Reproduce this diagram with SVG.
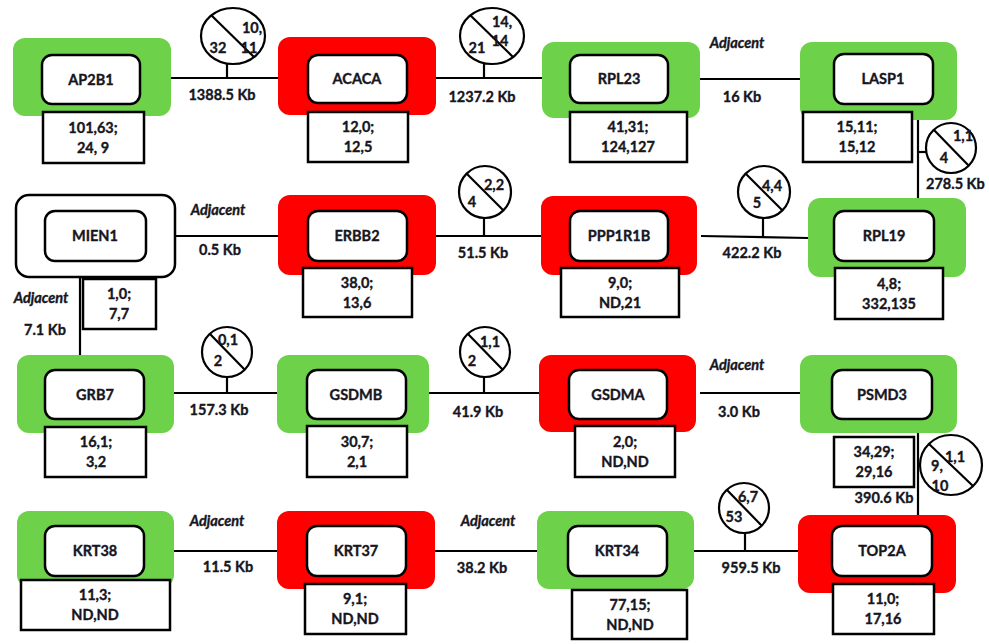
<svg xmlns="http://www.w3.org/2000/svg" width="989" height="644" viewBox="0 0 989 644">
<style>
text{font-family:Lato,"Liberation Sans",sans-serif;font-weight:bold;font-size:14.5px;fill:#161622;stroke:#161622;stroke-width:0.35;text-anchor:middle}
.it{font-style:italic}
.st{text-anchor:start}
.g{fill:#6DD24A;stroke:none}
.r{fill:#FF0000;stroke:none}
.w{fill:#fff;stroke:#000;stroke-width:2.5}
.d{fill:#fff;stroke:#000;stroke-width:2.5}
.ln{stroke:#000;stroke-width:2.2;fill:none}
.c{fill:#fff;stroke:#000;stroke-width:2.2}
</style>
<rect width="989" height="644" fill="#fff"/>

<g id="connectors">
  <!-- row 1 -->
  <line class="ln" x1="171" y1="78" x2="278" y2="78"/>
  <line class="ln" x1="227" y1="78" x2="227" y2="63"/>
  <ellipse class="c" cx="233" cy="36" rx="32" ry="28"/>
  <line class="ln" x1="211" y1="15" x2="254" y2="57"/>
  <text x="252" y="33">10,</text><text x="249" y="53">11</text><text x="218" y="53">32</text>
  <text x="222" y="100">1388.5 Kb</text>

  <line class="ln" x1="436" y1="78" x2="542" y2="78"/>
  <line class="ln" x1="484" y1="78" x2="484" y2="63"/>
  <ellipse class="c" cx="492" cy="36" rx="32" ry="28"/>
  <line class="ln" x1="470" y1="15" x2="513" y2="57"/>
  <text x="502" y="27">14,</text><text x="500" y="46">14</text><text x="477" y="53">21</text>
  <text x="482" y="102">1237.2 Kb</text>

  <line class="ln" x1="700" y1="79" x2="804" y2="79"/>
  <text class="it" x="737" y="48">Adjacent</text>
  <text x="742" y="102">16 Kb</text>

  <line class="ln" x1="918" y1="120" x2="918" y2="205" stroke-width="2.6"/>
  <line class="ln" x1="918" y1="152" x2="926" y2="152"/>
  <circle class="c" cx="951" cy="148" r="25"/>
  <line class="ln" x1="934" y1="130" x2="969" y2="166"/>
  <text x="963" y="141">1,1</text><text x="944" y="163">4</text>
  <text class="st" x="926" y="189">278.5 Kb</text>

  <!-- row 2 -->
  <line class="ln" x1="175" y1="236" x2="278" y2="236"/>
  <text class="it" x="218" y="215">Adjacent</text>
  <text x="220" y="255">0.5 Kb</text>

  <line class="ln" x1="436" y1="236" x2="541" y2="236"/>
  <line class="ln" x1="484" y1="236" x2="484" y2="218"/>
  <circle class="c" cx="485" cy="192" r="26"/>
  <line class="ln" x1="467" y1="174" x2="503" y2="210"/>
  <text x="494" y="190">2,2</text><text x="472" y="207">4</text>
  <text x="483" y="258">51.5 Kb</text>

  <line class="ln" x1="701" y1="236" x2="808" y2="238"/>
  <line class="ln" x1="763" y1="237" x2="763" y2="218"/>
  <circle class="c" cx="764" cy="192" r="26"/>
  <line class="ln" x1="746" y1="174" x2="782" y2="210"/>
  <text x="772" y="191">4,4</text><text x="757" y="208">5</text>
  <text x="752" y="258">422.2 Kb</text>

  <line class="ln" x1="80" y1="277" x2="80" y2="355" stroke-width="3"/>
  <text class="it" x="41" y="303">Adjacent</text>
  <text x="45" y="335">7.1 Kb</text>

  <!-- row 3 -->
  <line class="ln" x1="174" y1="393" x2="277" y2="393"/>
  <line class="ln" x1="227" y1="393" x2="227" y2="377"/>
  <circle class="c" cx="227" cy="352" r="25"/>
  <line class="ln" x1="210" y1="334" x2="245" y2="370"/>
  <text x="228" y="345">0,1</text><text x="218" y="366">2</text>
  <text x="219" y="415">157.3 Kb</text>

  <line class="ln" x1="429" y1="393" x2="540" y2="393"/>
  <line class="ln" x1="484" y1="393" x2="484" y2="377"/>
  <circle class="c" cx="485" cy="352" r="25"/>
  <line class="ln" x1="468" y1="334" x2="503" y2="370"/>
  <text x="490" y="347">1,1</text><text x="472" y="366">2</text>
  <text x="478" y="417">41.9 Kb</text>

  <line class="ln" x1="700" y1="393" x2="804" y2="393"/>
  <text class="it" x="737" y="370">Adjacent</text>
  <text x="739" y="417">3.0 Kb</text>

  <line class="ln" x1="918" y1="433" x2="918" y2="515" stroke-width="2.6"/>
  <line class="ln" x1="918" y1="465" x2="921" y2="465"/>
  <ellipse class="c" cx="951" cy="465" rx="31" ry="30"/>
  <line class="ln" x1="929" y1="444" x2="973" y2="486"/>
  <text x="955" y="462">1,1</text><text x="937" y="471">9,</text><text x="940" y="491">10</text>
  <text x="884" y="503">390.6 Kb</text>

  <!-- row 4 -->
  <line class="ln" x1="174" y1="551" x2="277" y2="551"/>
  <text class="it" x="217" y="526">Adjacent</text>
  <text x="228" y="572">11.5 Kb</text>

  <line class="ln" x1="435" y1="551" x2="537" y2="551"/>
  <text class="it" x="488" y="526">Adjacent</text>
  <text x="482" y="573">38.2 Kb</text>

  <line class="ln" x1="694" y1="551" x2="803" y2="551"/>
  <line class="ln" x1="745" y1="551" x2="745" y2="533"/>
  <circle class="c" cx="744" cy="508" r="25"/>
  <line class="ln" x1="727" y1="490" x2="762" y2="526"/>
  <text x="748" y="502">6,7</text><text x="734" y="522">53</text>
  <text x="751" y="573">959.5 Kb</text>
</g>

<g id="AP2B1">
  <rect class="g" x="13" y="38" width="158" height="78" rx="12"/>
  <rect class="w" x="42" y="55" width="98" height="49" rx="10"/>
  <text x="91" y="85">AP2B1</text>
  <rect class="d" x="43" y="112" width="101" height="51"/>
  <text x="93" y="133">101,63;</text><text x="93" y="153">24, 9</text>
</g>
<g id="ACACA">
  <rect class="r" x="278" y="37" width="158" height="78" rx="12"/>
  <rect class="w" x="308" y="55" width="99" height="48" rx="10"/>
  <text x="357" y="84">ACACA</text>
  <rect class="d" x="308" y="112" width="100" height="50"/>
  <text x="358" y="132">12,0;</text><text x="358" y="152">12,5</text>
</g>
<g id="RPL23">
  <rect class="g" x="542" y="42" width="158" height="76" rx="12"/>
  <rect class="w" x="570" y="55" width="98" height="48" rx="10"/>
  <text x="619" y="84">RPL23</text>
  <rect class="d" x="570" y="112" width="117" height="50"/>
  <text x="628" y="132">41,31;</text><text x="628" y="152">124,127</text>
</g>
<g id="LASP1">
  <rect class="g" x="800" y="42" width="157" height="78" rx="12"/>
  <rect class="w" x="834" y="54" width="99" height="50" rx="10"/>
  <text x="883" y="84">LASP1</text>
  <rect class="d" x="803" y="112" width="109" height="50"/>
  <text x="857" y="132">15,11;</text><text x="857" y="152">15,12</text>
</g>

<g id="MIEN1">
  <rect class="w" x="16" y="195" width="159" height="82" rx="13"/>
  <rect class="w" x="45" y="211" width="101" height="50" rx="10"/>
  <text x="95" y="241">MIEN1</text>
  <rect class="d" x="83" y="279" width="73" height="50"/>
  <text x="119" y="299">1,0;</text><text x="119" y="319">7,7</text>
</g>
<g id="ERBB2">
  <rect class="r" x="278" y="195" width="158" height="80" rx="12"/>
  <rect class="w" x="308" y="211" width="99" height="50" rx="10"/>
  <text x="357" y="241">ERBB2</text>
  <rect class="d" x="303" y="268" width="109" height="49"/>
  <text x="357" y="288">38,0;</text><text x="357" y="308">13,6</text>
</g>
<g id="PPP1R1B">
  <rect class="r" x="541" y="196" width="156" height="79" rx="12"/>
  <rect class="w" x="570" y="211" width="98" height="50" rx="10"/>
  <text x="619" y="241">PPP1R1B</text>
  <rect class="d" x="561" y="268" width="118" height="49"/>
  <text x="620" y="288">9,0;</text><text x="620" y="308">ND,21</text>
</g>
<g id="RPL19">
  <rect class="g" x="808" y="198" width="158" height="79" rx="12"/>
  <rect class="w" x="834" y="211" width="100" height="50" rx="10"/>
  <text x="884" y="241">RPL19</text>
  <rect class="d" x="835" y="268" width="108" height="51"/>
  <text x="889" y="289">4,8;</text><text x="889" y="309">332,135</text>
</g>

<g id="GRB7">
  <rect class="g" x="17" y="355" width="157" height="78" rx="12"/>
  <rect class="w" x="45" y="370" width="99" height="49" rx="10"/>
  <text x="95" y="400">GRB7</text>
  <rect class="d" x="45" y="427" width="101" height="50"/>
  <text x="96" y="447">16,1;</text><text x="96" y="467">3,2</text>
</g>
<g id="GSDMB">
  <rect class="g" x="277" y="355" width="152" height="78" rx="12"/>
  <rect class="w" x="307" y="370" width="99" height="49" rx="10"/>
  <text x="356" y="400">GSDMB</text>
  <rect class="d" x="307" y="426" width="100" height="51"/>
  <text x="357" y="447">30,7;</text><text x="357" y="467">2,1</text>
</g>
<g id="GSDMA">
  <rect class="r" x="539" y="355" width="157" height="77" rx="12"/>
  <rect class="w" x="569" y="370" width="98" height="49" rx="10"/>
  <text x="618" y="400">GSDMA</text>
  <rect class="d" x="575" y="426" width="100" height="51"/>
  <text x="625" y="447">2,0;</text><text x="625" y="467">ND,ND</text>
</g>
<g id="PSMD3">
  <rect class="g" x="800" y="355" width="157" height="78" rx="12"/>
  <rect class="w" x="832" y="370" width="100" height="49" rx="10"/>
  <text x="882" y="400">PSMD3</text>
  <rect class="d" x="834" y="437" width="80" height="50"/>
  <text x="874" y="457">34,29;</text><text x="874" y="477">29,16</text>
</g>

<g id="KRT38">
  <rect class="g" x="17" y="511" width="157" height="76" rx="12"/>
  <rect class="w" x="45" y="526" width="99" height="50" rx="10"/>
  <text x="95" y="556">KRT38</text>
  <rect class="d" x="21" y="580" width="149" height="50"/>
  <text x="95" y="600">11,3;</text><text x="95" y="620">ND,ND</text>
</g>
<g id="KRT37">
  <rect class="r" x="277" y="511" width="158" height="78" rx="12"/>
  <rect class="w" x="307" y="526" width="99" height="50" rx="10"/>
  <text x="356" y="556">KRT37</text>
  <rect class="d" x="305" y="584" width="101" height="50"/>
  <text x="355" y="604">9,1;</text><text x="355" y="624">ND,ND</text>
</g>
<g id="KRT34">
  <rect class="g" x="537" y="511" width="157" height="78" rx="12"/>
  <rect class="w" x="568" y="526" width="99" height="50" rx="10"/>
  <text x="617" y="556">KRT34</text>
  <rect class="d" x="572" y="590" width="115" height="49"/>
  <text x="630" y="610">77,15;</text><text x="630" y="630">ND,ND</text>
</g>
<g id="TOP2A">
  <rect class="r" x="798" y="515" width="158" height="78" rx="12"/>
  <rect class="w" x="832" y="526" width="100" height="50" rx="10"/>
  <text x="882" y="556">TOP2A</text>
  <rect class="d" x="833" y="584" width="101" height="50"/>
  <text x="883" y="604">11,0;</text><text x="883" y="624">17,16</text>
</g>
</svg>
